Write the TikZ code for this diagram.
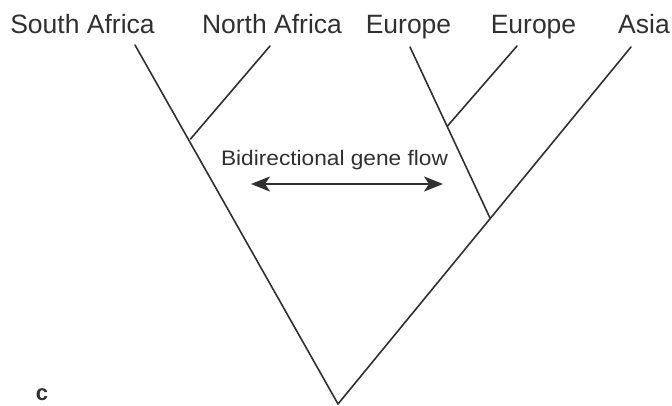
\documentclass[tikz,border=0pt]{standalone}
\usepackage{fontspec}
\setmainfont{Liberation Sans}
\usetikzlibrary{arrows.meta}
\definecolor{ink}{HTML}{303030}
\tikzset{
  branch/.style={draw=ink, line width=1.6pt, line cap=round},
  taxon/.style={anchor=base, inner sep=0pt, text=ink, font=\fontsize{26.5}{30}\selectfont},
  flowlabel/.style={anchor=base, inner sep=0pt, text=ink, font=\fontsize{21}{24}\selectfont, xscale=1.08},
  flowarrow/.style={draw=ink, line width=1.8pt, {Stealth[length=19pt,width=15pt,inset=5pt]}-{Stealth[length=19pt,width=15pt,inset=5pt]}},
  panel/.style={anchor=base, inner sep=0pt, text=ink, font=\bfseries\fontsize{22}{24}\selectfont}
}
\begin{document}
\begin{tikzpicture}[x=1pt,y=-1pt]
\useasboundingbox (0,0) rectangle (672,405);
% labels
\node[taxon] (lsa) at (82.5,33.3) {South Africa};
\node[taxon] (lna) at (272,33.3) {North Africa};
\node[taxon] (leu1) at (408.5,33.3) {Europe};
\node[taxon] (leu2) at (533.5,33.3) {Europe};
\node[taxon] (las) at (644,33.3) {Asia};
% tips and junctions
\coordinate (sa) at (135,45);
\coordinate (na) at (270,46);
\coordinate (eu1) at (410,47);
\coordinate (eu2) at (517,46);
\coordinate (as) at (631,47);
\coordinate (root) at (338,404);
\coordinate (jaf) at (190.5,139);
\coordinate (jeu) at (447.5,126);
\coordinate (jas) at (490,218);
% branches
\draw[branch] (root) -- (sa);
\draw[branch] (jaf) -- (na);
\draw[branch] (root) -- (as);
\draw[branch] (jas) -- (eu1);
\draw[branch] (jeu) -- (eu2);
% gene flow
\node[flowlabel] (gf) at (334.5,165.7) {Bidirectional gene flow};
\coordinate (gl) at (251,184);
\coordinate (gr) at (443,184);
\draw[flowarrow] (gl) -- (gr);
% panel letter
\node[panel] (pc) at (42,400.5) {c};
\end{tikzpicture}
\end{document}
